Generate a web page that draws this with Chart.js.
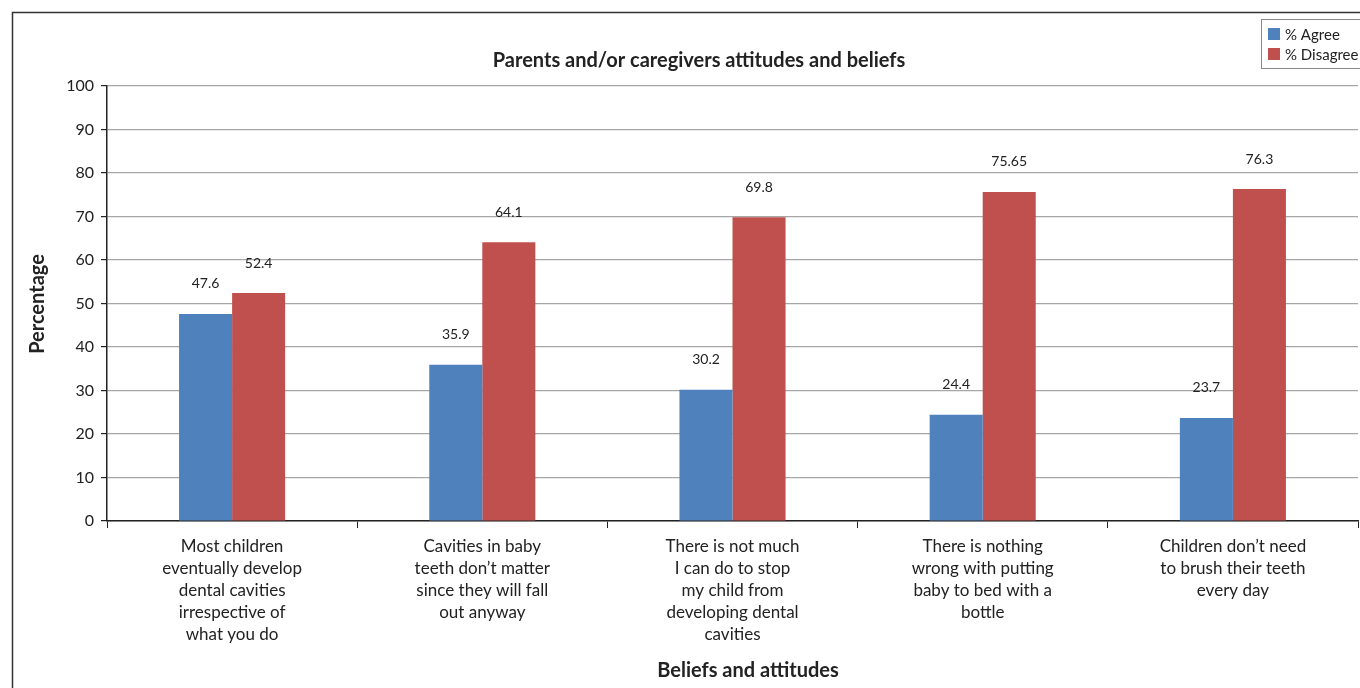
<!DOCTYPE html>
<html>
<head>
<meta charset="utf-8">
<title>Parents and/or caregivers attitudes and beliefs</title>
<script src="https://cdn.jsdelivr.net/npm/chart.js@4.4.1/dist/chart.umd.min.js"></script>
<style>
  html, body { margin: 0; padding: 0; background: #fff; }
  #wrap { position: relative; width: 1360px; height: 688px; }
</style>
</head>
<body>
<div id="wrap"><canvas id="c" width="1360" height="688"></canvas></div>
<script>
// Statements asked about (multi-line category labels)
const categories = [
  ["Most children", "eventually develop", "dental cavities", "irrespective of", "what you do"],
  ["Cavities in baby", "teeth don\u2019t matter", "since they will fall", "out anyway"],
  ["There is not much", "I can do to stop", "my child from", "developing dental", "cavities"],
  ["There is nothing", "wrong with putting", "baby to bed with a", "bottle"],
  ["Children don\u2019t need", "to brush their teeth", "every day"]
];
const agreeValues = [47.6, 35.9, 30.2, 24.4, 23.7];
const disagreeValues = [52.4, 64.1, 69.8, 75.65, 76.3];
const yTicks = [0, 10, 20, 30, 40, 50, 60, 70, 80, 90, 100];

const chartTitle = "Parents and/or caregivers attitudes and beliefs";
const xTitle = "Beliefs and attitudes";
const yTitle = "Percentage";

const FONT = "Lato, 'Open Sans', sans-serif";
const TEXT = "#222";

// Frame, titles, legend box and value labels
const decorations = {
  id: "decorations",
  beforeDraw(chart) {
    const ctx = chart.ctx;
    ctx.save();
    ctx.fillStyle = "#fff";
    ctx.fillRect(0, 0, chart.width, chart.height);
    ctx.strokeStyle = "#333";
    ctx.lineWidth = 1.5;
    ctx.beginPath();
    ctx.moveTo(12.5, chart.height + 2);
    ctx.lineTo(12.5, 12.5);
    ctx.lineTo(chart.width + 2, 12.5);
    ctx.stroke();
    ctx.restore();
  },
  afterDraw(chart) {
    const ctx = chart.ctx;
    const area = chart.chartArea;
    ctx.save();
    ctx.fillStyle = TEXT;
    ctx.textAlign = "center";
    ctx.textBaseline = "middle";

    // chart title
    ctx.font = "bold 20px " + FONT;
    ctx.fillText(chartTitle, 699, 61);

    // x axis title
    ctx.fillText(xTitle, 748, 671);

    // y axis title
    ctx.save();
    ctx.translate(38, 304);
    ctx.rotate(-Math.PI / 2);
    ctx.fillText(yTitle, 0, 0);
    ctx.restore();

    // value labels above bars
    ctx.font = "14px " + FONT;
    chart.data.datasets.forEach((ds, di) => {
      const meta = chart.getDatasetMeta(di);
      meta.data.forEach((bar, i) => {
        ctx.fillText(String(ds.data[i]), bar.x, bar.y - 30);
      });
    });

    // legend box
    ctx.strokeStyle = "#888";
    ctx.lineWidth = 1;
    ctx.strokeRect(1261.5, 19.5, 110, 49);
    ctx.textAlign = "left";
    ctx.font = "15px " + FONT;
    chart.data.datasets.forEach((ds, di) => {
      const cy = 34 + di * 20;
      ctx.fillStyle = ds.backgroundColor;
      ctx.fillRect(1268, cy - 6, 12, 12);
      ctx.fillStyle = TEXT;
      ctx.fillText(ds.label, 1285, cy + 1);
    });
    ctx.restore();
  }
};

new Chart(document.getElementById("c"), {
  type: "bar",
  data: {
    labels: categories,
    datasets: [
      { label: "% Agree", data: agreeValues, backgroundColor: "#4F81BD" },
      { label: "% Disagree", data: disagreeValues, backgroundColor: "#C0504D" }
    ]
  },
  options: {
    responsive: false,
    animation: false,
    devicePixelRatio: 1,
    layout: { padding: { left: 0, right: 2, top: 86, bottom: 0 } },
    datasets: { bar: { categoryPercentage: 0.424, barPercentage: 1.0 } },
    plugins: {
      legend: { display: false },
      title: { display: false },
      tooltip: { enabled: false }
    },
    scales: {
      x: {
        afterFit(scale) { scale.height = 167; },
        grid: {
          offset: true,
          drawOnChartArea: false,
          drawTicks: true,
          tickLength: 7,
          tickColor: "#222",
          color: "#222"
        },
        border: { display: true, color: "#222", width: 1.5 },
        ticks: {
          color: TEXT,
          font: { family: FONT, size: 17, lineHeight: "22px" },
          padding: 8,
          maxRotation: 0,
          autoSkip: false
        }
      },
      y: {
        min: 0,
        max: 100,
        afterFit(scale) { scale.width = 107; },
        afterBuildTicks(scale) { scale.ticks = yTicks.map(v => ({ value: v })); },
        grid: {
          color: "#a6a6a6",
          lineWidth: 1.2,
          drawTicks: true,
          tickLength: 6,
          tickColor: "#222"
        },
        border: { display: true, color: "#222", width: 1.5 },
        ticks: {
          color: TEXT,
          font: { family: FONT, size: 16 },
          padding: 7
        }
      }
    }
  },
  plugins: [decorations]
});
</script>
</body>
</html>
